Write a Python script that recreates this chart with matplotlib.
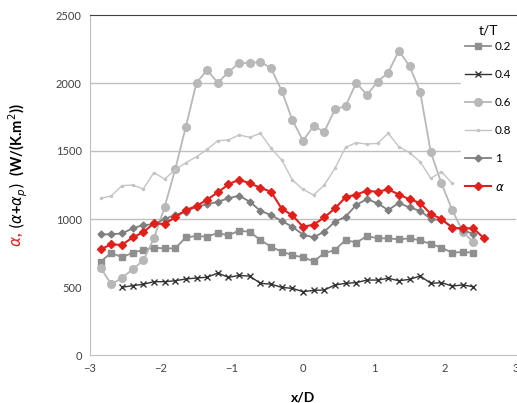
import numpy as np
import matplotlib
matplotlib.use("Agg")
import matplotlib.pyplot as plt

plt.rcParams['font.family'] = ['Lato', 'DejaVu Sans']

# x/D positions, step 0.15
x_all = np.round(np.arange(-2.85, 2.56, 0.15), 2)

t02 = [686, 752, 718, 752, 772, 789, 784, 784, 865, 875, 870, 897, 880, 915, 905, 846,
       796, 760, 735, 718, 690, 748, 772, 846, 826, 875, 858, 858, 850, 858, 843, 816,
       790, 752, 758, 752]
t04 = [498, 510, 520, 539, 539, 546, 559, 566, 572, 603, 571, 585, 580, 527, 521, 497,
       490, 466, 475, 478, 515, 527, 532, 551, 551, 564, 546, 556, 581, 527, 532, 507,
       515, 502]
t06 = [640, 520, 567, 630, 695, 858, 1086, 1365, 1679, 2002, 2095, 2002, 2080, 2149,
       2145, 2157, 2108, 1943, 1728, 1576, 1684, 1642, 1806, 1831, 2002, 1912, 2010,
       2076, 2237, 2125, 1936, 1490, 1262, 1068, 907, 830]
t08 = [1152, 1170, 1245, 1250, 1221, 1341, 1294, 1360, 1414, 1458, 1512, 1576, 1581,
       1618, 1600, 1630, 1520, 1434, 1287, 1218, 1176, 1250, 1373, 1527, 1561, 1551,
       1556, 1630, 1532, 1488, 1421, 1299, 1348, 1262]
t10 = [887, 887, 894, 931, 956, 960, 1000, 1030, 1055, 1090, 1108, 1127, 1152, 1172,
       1127, 1060, 1029, 985, 943, 885, 865, 907, 980, 1017, 1103, 1147, 1115, 1066,
       1118, 1085, 1060, 1000, 993, 943, 919, 890]
alpha = [777, 814, 809, 865, 902, 968, 963, 1012, 1066, 1095, 1143, 1195, 1255, 1290,
         1262, 1230, 1200, 1076, 1027, 943, 958, 1012, 1078, 1160, 1180, 1208, 1200,
         1218, 1180, 1145, 1118, 1037, 1000, 936, 931, 931, 858]

fig = plt.figure(figsize=(5.17, 4.03), dpi=100)
ax = fig.add_axes([90/517, 48/403, 426/517, 340/403])

for y in [1000, 1500, 2000]:
    ax.axhline(y, color='#bfbfbf', lw=1, zorder=0)

ax.plot(x_all[:36], t02, color='#8f8f8f', marker='s', ms=5, lw=1.3, label='0.2')
ax.plot(x_all[2:36], t04, color='#333333', marker='x', ms=4.5, mew=1, lw=1, label='0.4')
ax.plot(x_all[:36], t06, color='#b8b8b8', marker='o', ms=5.5, lw=1.3, label='0.6')
ax.plot(x_all[:34], t08, color='#c4c4c4', marker='.', ms=3, lw=1, label='0.8')
ax.plot(x_all[:36], t10, color='#7f7f7f', marker='D', ms=3.5, lw=1.3, label='1')
ax.plot(x_all, alpha, color='#e0201b', marker='D', ms=4.5, lw=1.5, label=r'$\alpha$')

ax.set_xlim(-3, 3)
ax.set_ylim(0, 2500)
ax.set_xticks(range(-3, 4))
ax.set_yticks(range(0, 2501, 500))
ax.tick_params(length=0, labelsize=8, colors='#404040', pad=6)
for s in ['left', 'bottom']:
    ax.spines[s].set_color('#bfbfbf')
ax.spines['top'].set_color('#404040')
ax.spines['right'].set_visible(False)

ax.set_xlabel('x/D', fontsize=10, fontweight='bold', labelpad=12)

leg = ax.legend(title='t/T', loc='upper right', bbox_to_anchor=(1.0, 0.985),
                borderaxespad=0, frameon=True, fancybox=False, edgecolor='white',
                framealpha=1, fontsize=8.5, title_fontsize=10, handlelength=2.2,
                labelspacing=1.45, borderpad=0.4, handletextpad=0.3)
leg._legend_box.sep = 3

# two-colour y label
fig.canvas.draw()
r = fig.canvas.get_renderer()
t1 = fig.text(18/517, 1 - 247/403, r'$\alpha$,', rotation=90, color='#e0201b',
              fontsize=11, fontweight='bold', ha='center', va='bottom')
bb = t1.get_window_extent(r)
t2 = fig.text(18/517, (bb.y1 + 3) / fig.bbox.height,
              r'$(\alpha$+$\alpha_p)$  (W/(K.m$^2$))', rotation=90, color='black',
              fontsize=10.5, fontweight='bold', ha='center', va='bottom')

fig.savefig('out.png', dpi=100)
